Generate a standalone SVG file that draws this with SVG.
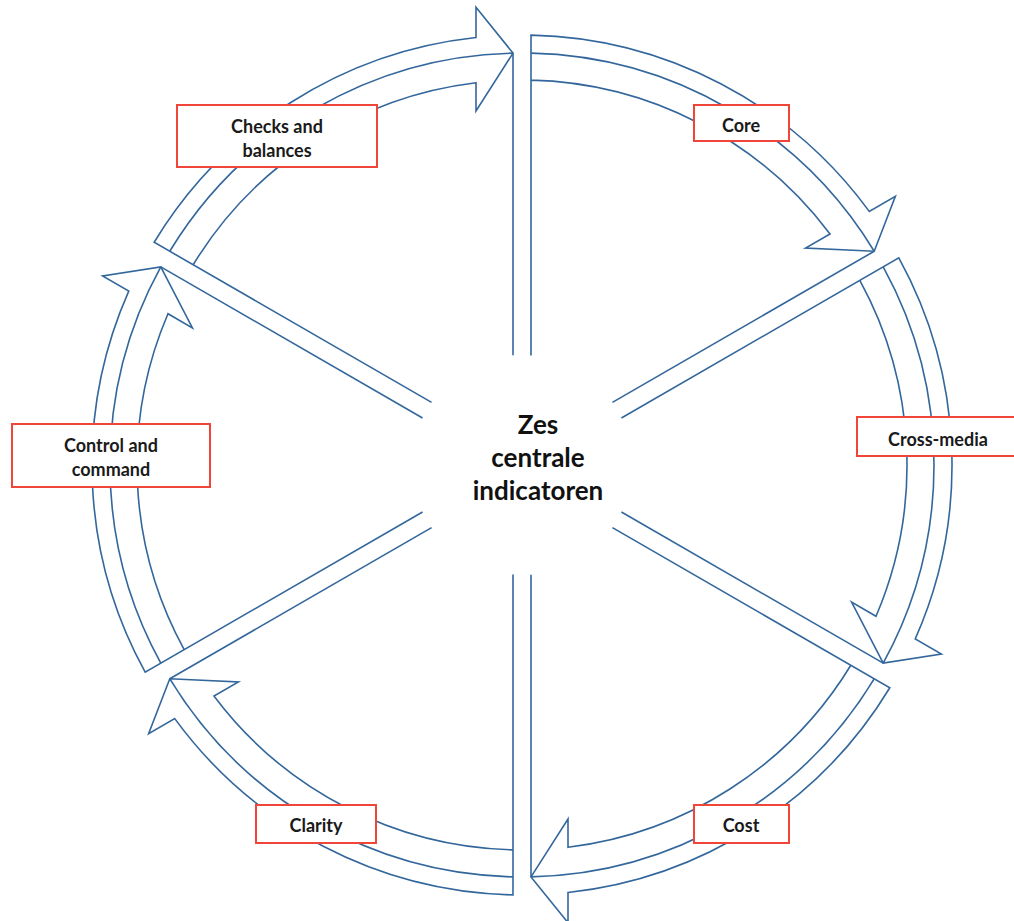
<svg xmlns="http://www.w3.org/2000/svg" width="1014" height="921" viewBox="0 0 1014 921">
  <style>
    .seg { fill: none; stroke: #33679c; stroke-width: 1.6; stroke-linejoin: miter; }
    .box { fill: #ffffff; stroke: #f0463a; stroke-width: 2; }
    .lbl { font-family: Lato, "Open Sans", "Liberation Sans", sans-serif; font-weight: bold; font-size: 18px; fill: #1a1a1a; text-anchor: middle; }
    .ctr { font-family: Lato, "Open Sans", "Liberation Sans", sans-serif; font-weight: bold; font-size: 26px; fill: #111111; text-anchor: middle; }
  </style>
  <defs>
    <g id="seg">
      <path class="seg" d="M -90.44 -62.60 L -367.81 -222.75 A 430 430 0 0 1 -46 -427.53 L -46 -457.70 L -9 -411.90 L -46 -354.02 L -46 -382.24 A 385 385 0 0 0 -328.82 -200.24"/>
      <path class="seg" d="M -352.22 -213.74 A 412 412 0 0 1 -9 -411.90"/>
      <path class="seg" d="M -9 -411.90 L -9 -109.63"/>
    </g>
  </defs>
  <rect width="1014" height="921" fill="#ffffff"/>
  <g id="connectors" transform="translate(522,465)">
    <use href="#seg" transform="rotate(0)"/>
    <use href="#seg" transform="rotate(60)"/>
    <use href="#seg" transform="rotate(120)"/>
    <use href="#seg" transform="rotate(180)"/>
    <use href="#seg" transform="rotate(240)"/>
    <use href="#seg" transform="rotate(300)"/>
  </g>
  <g id="center">
    <text class="ctr" x="538" y="434">Zes</text>
    <text class="ctr" x="538" y="467">centrale</text>
    <text class="ctr" x="538" y="500">indicatoren</text>
  </g>
  <g id="checks">
    <rect class="box" x="177" y="105" width="200" height="62"/>
    <text class="lbl" x="277" y="133">Checks and</text>
    <text class="lbl" x="277" y="157">balances</text>
  </g>
  <g id="core">
    <rect class="box" x="694" y="105" width="95" height="36"/>
    <text class="lbl" x="741" y="132">Core</text>
  </g>
  <g id="cross-media">
    <rect class="box" x="857" y="417" width="162" height="39"/>
    <text class="lbl" x="938" y="446">Cross-media</text>
  </g>
  <g id="cost">
    <rect class="box" x="694" y="805" width="95" height="38"/>
    <text class="lbl" x="741" y="832">Cost</text>
  </g>
  <g id="clarity">
    <rect class="box" x="256" y="805" width="120" height="38"/>
    <text class="lbl" x="316" y="832">Clarity</text>
  </g>
  <g id="control">
    <rect class="box" x="12" y="424" width="198" height="63"/>
    <text class="lbl" x="111" y="452">Control and</text>
    <text class="lbl" x="111" y="476">command</text>
  </g>
</svg>
